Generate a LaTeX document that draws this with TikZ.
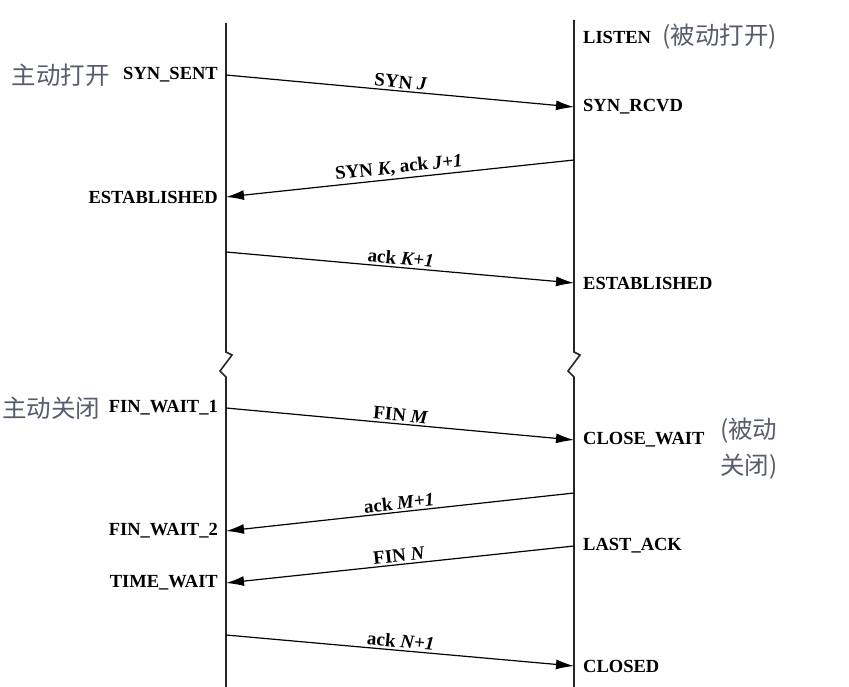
\documentclass[tikz,border=0pt]{standalone}
\usepackage{fontspec}
\setmainfont{Liberation Serif}
\newfontfamily\cjk{Noto Sans CJK SC}
\usepackage{tikz}
\usetikzlibrary{arrows.meta, positioning}
\definecolor{notegray}{RGB}{88,92,108}

\begin{document}
\begin{tikzpicture}[x=1pt, y=-1pt,
     life/.style = {draw=black!85, line width=1.6pt},
     msg/.style = {draw, line width=1.2pt, -{Latex[length=18pt,width=10pt]}},
     lbl/.style = {midway, sloped, above=2pt, inner sep=0pt, font=\bfseries\fontsize{19}{21}\selectfont},
     state/.style = {inner sep=0pt, font=\bfseries\fontsize{18.5}{21}\selectfont},
     note/.style = {inner sep=0pt, text=notegray, font=\cjk\fontsize{24.5}{36}\selectfont, align=left}]
        \useasboundingbox (0,0) rectangle (849,687);
        % life lines, each with a break
        \draw[life] (226,23) -- (226,352) -- (232,355) -- (220,371) -- (226,377) -- (226,687);
        \draw[life] (574,20) -- (574,352) -- (580,355) -- (568,371) -- (574,377) -- (574,687);
        % points on the client (a) and server (b) lines
        \coordinate (a1) at (226,75);  \coordinate (b0) at (574,37);
        \coordinate (a2) at (226,197); \coordinate (b1) at (574,107);
        \coordinate (a3) at (226,252); \coordinate (b2) at (574,160);
        \coordinate (a4) at (226,408); \coordinate (b3) at (574,283);
        \coordinate (a5) at (226,531); \coordinate (b4) at (574,440);
        \coordinate (a6) at (226,583); \coordinate (b5) at (574,493);
        \coordinate (a7) at (226,635); \coordinate (b6) at (574,546);
                                       \coordinate (b7) at (574,666);
        % states
        \node[state, left=8pt of a1] (synsent) {SYN\_SENT};
        \node[state, left=8pt of a2] (estc) {ESTABLISHED};
        \node[state, left=8pt of a4] (fw1) {FIN\_WAIT\_1};
        \node[state, left=8pt of a5] (fw2) {FIN\_WAIT\_2};
        \node[state, left=8pt of a6] (tw) {TIME\_WAIT};
        \node[state, right=9pt of b0] (listen) {LISTEN};
        \node[state, right=9pt of b1] (synrcvd) {SYN\_RCVD};
        \node[state, right=9pt of b3] (ests) {ESTABLISHED};
        \node[state, right=9pt of b4] (cw) {CLOSE\_WAIT};
        \node[state, right=9pt of b6] (lack) {LAST\_ACK};
        \node[state, right=9pt of b7] (closed) {CLOSED};
        % notes
        \node[note, left=13pt of synsent] (aopen) {主动打开};
        \node[note, left=8pt of fw1] (aclose) {主动关闭};
        \node[note, right=11pt of listen] (popen) {(被动打开)};
        \node[note, anchor=north west] (pclose) at (720,418) {(被动\\关闭)};
        % segments
        \draw[msg] (a1) -- node[lbl] (m1) {SYN \textit{J}} (b1);
        \draw[msg] (b2) -- node[lbl] (m2) {SYN \textit{K}, ack \textit{J+1}} (a2);
        \draw[msg] (a3) -- node[lbl] (m3) {ack \textit{K+1}} (b3);
        \draw[msg] (a4) -- node[lbl] (m4) {FIN \textit{M}} (b4);
        \draw[msg] (b5) -- node[lbl] (m5) {ack \textit{M+1}} (a5);
        \draw[msg] (b6) -- node[lbl] (m6) {FIN \textit{N}} (a6);
        \draw[msg] (a7) -- node[lbl] (m7) {ack \textit{N+1}} (b7);
\end{tikzpicture}
\end{document}
